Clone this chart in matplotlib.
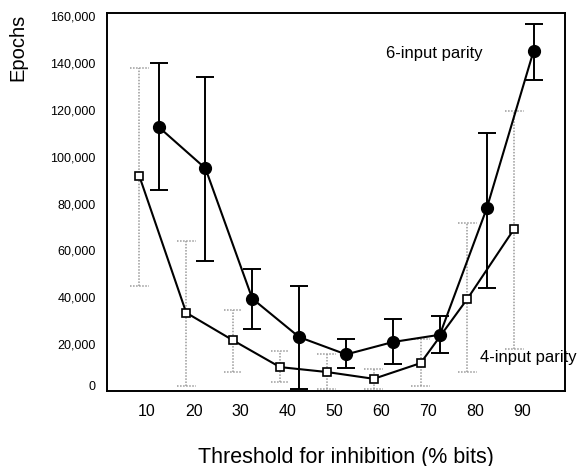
import matplotlib
matplotlib.use('Agg')
import matplotlib.pyplot as plt
import matplotlib.transforms as mtransforms
import numpy as np

plt.rcParams['font.family'] = ['Liberation Sans', 'DejaVu Sans']

# thresholds (% bits)
thresholds = [10, 20, 30, 40, 50, 60, 70, 80, 90]

# 6-input parity (filled circles), plotted slightly right of the tick
six_mean = [112700, 95000, 39400, 23000, 15600, 20900, 24000, 77900, 145100]
six_high = [139800, 134100, 52200, 44700, 22300, 30600, 31900, 110300, 156600]
six_low = [85700, 55500, 26300, 1000, 10000, 11400, 16200, 44100, 132700]

# 4-input parity (open squares), plotted slightly left of the tick
four_mean = [91700, 33400, 21600, 10200, 8100, 5200, 11900, 39400, 69300]
four_high = [138000, 64000, 34400, 16900, 15900, 9200, 22000, 71500, 119400]
four_low = [44700, 2100, 8100, 3800, 800, 700, 2100, 8100, 18100]

x = np.array(thresholds, dtype=float)
x_six = x + 2.5
x_four = x - 1.6

fig = plt.figure(figsize=(5.81, 4.66), dpi=100)
ax = fig.add_axes([107 / 581, 1 - 391 / 466, 458 / 581, 378 / 466])

# dotted grey error bars for 4-input
cap = 2.0
grey = '#9a9a9a'
ax.vlines(x_four, four_low, four_high, colors=grey, linestyles=(0, (1, 1)), linewidth=1.1, zorder=1)
ax.hlines(four_high, x_four - cap, x_four + cap, colors=grey, linestyles=(0, (1, 1)), linewidth=1.1, zorder=1)
ax.hlines(four_low, x_four - cap, x_four + cap, colors=grey, linestyles=(0, (1, 1)), linewidth=1.1, zorder=1)

# solid error bars for 6-input
six_err = [np.array(six_mean) - np.array(six_low), np.array(six_high) - np.array(six_mean)]
ax.errorbar(x_six, six_mean, yerr=six_err, fmt='none', ecolor='black',
            elinewidth=1.4, capsize=6.3, capthick=1.4, zorder=2)

ax.plot(x_four, four_mean, color='black', linewidth=1.5, marker='s', markersize=5.8,
        markerfacecolor='white', markeredgecolor='black', markeredgewidth=1.2, zorder=3)
ax.plot(x_six, six_mean, color='black', linewidth=1.5, marker='o', markersize=8.5,
        markerfacecolor='black', markeredgecolor='black', zorder=4)

ax.text(71.4, 144200, '6-input parity', fontsize=12, ha='center', va='center')
ax.text(91.3, 14500, '4-input parity', fontsize=12, ha='center', va='center', clip_on=False)

ax.set_xlim(1.5, 99.2)
ax.set_ylim(0, 161300)
ax.set_xticks(thresholds)
ax.set_xticklabels([str(t) for t in thresholds], fontsize=11.5)
yt = np.arange(0, 160001, 20000)
ax.set_yticks(yt)
ax.set_yticklabels([f'{v:,}' for v in yt], fontsize=9)
ax.tick_params(axis='both', length=0)
ax.tick_params(axis='x', pad=9)
ax.tick_params(axis='y', pad=8)

# the "0" label sits a little above the bottom spine in the original
zero_lab = ax.get_yticklabels()[0]
zero_lab.set_transform(zero_lab.get_transform() +
                       mtransforms.ScaledTranslation(0, 5 / 100, fig.dpi_scale_trans))

for s in ax.spines.values():
    s.set_linewidth(1.4)

fig.text(346 / 581, 1 - 457 / 466, 'Threshold for inhibition (% bits)', fontsize=15.5,
         ha='center', va='center')
fig.text(18 / 581, 1 - 47 / 466, 'Epochs', fontsize=14.5, rotation=90,
         ha='center', va='center')

fig.savefig('out.png', dpi=100)
